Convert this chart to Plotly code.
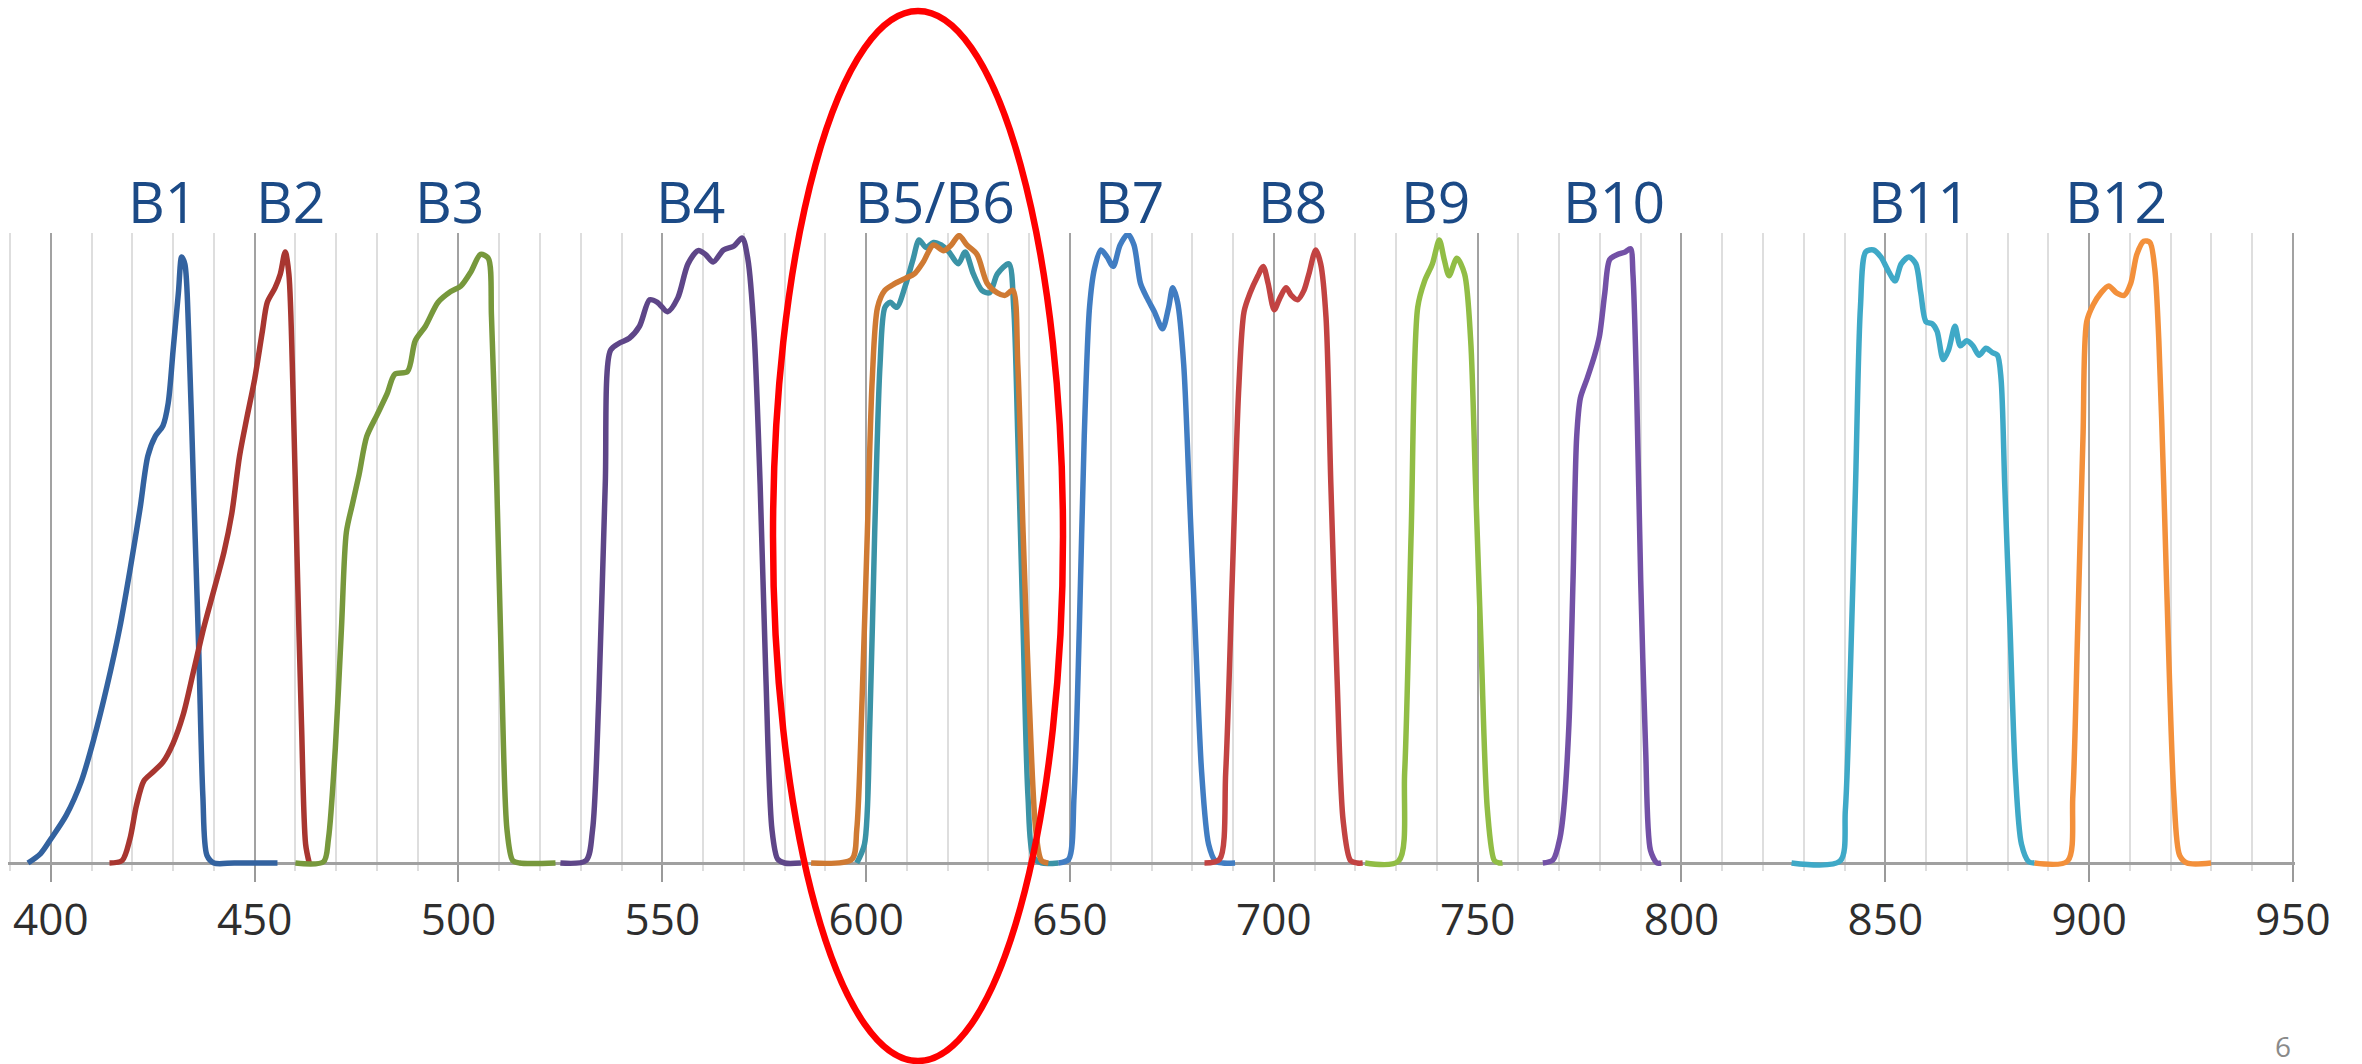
import plotly.graph_objects as go

# ---------------------------------------------------------------------------
# Relative spectral response of each band (wavelength in nm, response 0..1)
# ---------------------------------------------------------------------------
b1_nm = [394.4, 397.5, 400, 403.8, 407.5, 410.6, 413.8, 416.9, 419.4, 421.9, 423.8, 425.6, 427.5,
         428.8, 430, 431.3, 432.1, 432.9, 433.8, 435, 436.3, 437.3, 438.3, 440, 445, 455.6]
b1_resp = [0, 0.015, 0.038, 0.076, 0.13, 0.198, 0.281, 0.373, 0.464, 0.563, 0.646, 0.677, 0.694,
           0.73, 0.814, 0.905, 0.962, 0.95, 0.844, 0.6, 0.335, 0.106, 0.012, 0, 0, 0]

b2_nm = [414.4, 417.5, 419.4, 421, 422.8, 425, 427.5, 430, 432.5, 435, 437.5, 440, 442.5, 444.4,
         446.3, 448.1, 450, 451.9, 453.1, 455, 456.3, 457.5, 458.4, 459.4, 460.4, 461.5, 462.5, 463.4]
b2_resp = [0, 0.004, 0.038, 0.091, 0.13, 0.144, 0.16, 0.19, 0.236, 0.304, 0.373, 0.433, 0.494, 0.555,
           0.646, 0.707, 0.768, 0.844, 0.89, 0.913, 0.935, 0.97, 0.935, 0.753, 0.487, 0.22, 0.03, 0]

b3_nm = [460, 466.9, 468.1, 469.8, 471.3, 472.5, 474, 475.6, 477.5, 480, 482.5, 484.4, 487.5, 489.4,
         491.9, 495, 498.1, 500.6, 503.1, 505.4, 507.3, 508.1, 509.4, 510.6, 511.9, 513.3, 515, 523.8]
b3_resp = [0, 0.002, 0.038, 0.183, 0.373, 0.525, 0.57, 0.616, 0.677, 0.711, 0.745, 0.776, 0.78, 0.829,
           0.852, 0.89, 0.907, 0.916, 0.939, 0.966, 0.96, 0.867, 0.6, 0.297, 0.053, 0.004, 0, 0]

b4_nm = [525, 531.3, 532.9, 534.4, 536, 537.3, 539.4, 541.9, 544.4, 546.9, 548.8, 551.3, 553.8, 556.3,
         558.8, 560.6, 562.5, 565, 567.5, 569.6, 571, 572.5, 574, 575.4, 576.9, 578.3, 580, 584]
b4_resp = [0, 0.004, 0.053, 0.259, 0.6, 0.814, 0.825, 0.833, 0.852, 0.894, 0.89, 0.875, 0.897, 0.951,
           0.972, 0.966, 0.954, 0.973, 0.979, 0.992, 0.958, 0.844, 0.6, 0.297, 0.053, 0.006, 0, 0]

b5_nm = [597.7, 599.6, 600.9, 602.1, 603.4, 604.6, 605.9, 607.5, 609.6, 611.5, 613, 614.7, 616.5,
         618.4, 620.3, 622.6, 624.3, 626.3, 628.4, 630.3, 632.2, 635, 636.2, 637.2, 638.5, 639.7, 641,
         643, 647.2]
b5_resp = [0, 0.03, 0.22, 0.525, 0.79, 0.882, 0.89, 0.882, 0.916, 0.958, 0.989, 0.977, 0.985,
           0.981, 0.97, 0.951, 0.97, 0.935, 0.909, 0.905, 0.935, 0.951, 0.882, 0.677, 0.373, 0.106, 0.01,
           0, 0]

b6_nm = [586.5, 596.5, 597.7, 599, 600.3, 601.5, 602.8, 604.6, 607.1, 609.6, 611.8, 614, 616.5, 619,
         620.9, 622.8, 624.7, 627.2, 629.7, 632.2, 634.1, 636, 637.2, 638.5, 640, 641.6, 643, 644.7]
b6_resp = [0, 0.006, 0.053, 0.259, 0.525, 0.768, 0.882, 0.909, 0.92, 0.928, 0.935, 0.954, 0.981, 0.972,
           0.981, 0.996, 0.981, 0.966, 0.92, 0.905, 0.901, 0.909, 0.791, 0.525, 0.259, 0.053, 0.004, 0]

b7_nm = [647.2, 649.7, 651, 652.3, 653.5, 654.8, 656, 657.6, 659.1, 660.6, 662.3, 664.2, 665.7, 667.3,
         668.9, 670.7, 672.7, 674.2, 675.2, 676.4, 677.9, 679.2, 680.7, 682.3, 684, 685.7, 687.5, 690.5]
b7_resp = [0, 0.006, 0.106, 0.373, 0.677, 0.882, 0.943, 0.973, 0.962, 0.947, 0.981, 0.998, 0.981, 0.92,
           0.897, 0.875, 0.848, 0.882, 0.913, 0.89, 0.791, 0.6, 0.373, 0.144, 0.03, 0.003, 0, 0]

b8_nm = [683, 686.7, 688.2, 689.8, 691.4, 692.7, 694.2, 696.1, 697.4, 698.6, 700.1, 701.5, 703, 704.3,
         705.8, 707.4, 708.6, 710.3, 711.5, 712.8, 714, 715.5, 717, 718.8, 720.5, 721.8]
b8_resp = [0, 0.006, 0.144, 0.449, 0.753, 0.875, 0.905, 0.932, 0.947, 0.92, 0.878, 0.897, 0.913, 0.901,
           0.894, 0.909, 0.935, 0.973, 0.951, 0.867, 0.6, 0.297, 0.068, 0.004, 0, 0]

b9_nm = [722.4, 730.6, 732.1, 733.7, 735.3, 737, 738.9, 740.6, 741.8, 743, 744.9, 746.8, 748.3, 749.5,
         750.9, 752.4, 754.1, 755.3, 756.1]
b9_resp = [0, 0.003, 0.144, 0.525, 0.882, 0.924, 0.951, 0.989, 0.958, 0.932, 0.96, 0.935, 0.829, 0.6,
           0.335, 0.084, 0.004, 0, 0]

b10_nm = [766, 768.5, 770.2, 771.1, 772.4, 773.4, 774.3, 775.2, 776.8, 778.7, 779.9, 781.2, 782.4,
          784.3, 786.2, 787.5, 788.1, 789, 790, 791.2, 792.4, 794, 795]
b10_resp = [0, 0.005, 0.04, 0.084, 0.22, 0.449, 0.677, 0.738, 0.768, 0.806, 0.837, 0.905, 0.958,
            0.966, 0.97, 0.975, 0.935, 0.753, 0.449, 0.183, 0.02, 0, 0]

b11_nm = [827, 838.9, 840.2, 841.4, 842.7, 843.9, 845.2, 847.1, 848.9, 850.8, 852.4, 853.9, 855.8,
          857.5, 858.7, 860, 861.5, 862.7, 864.2, 865.5, 867.1, 868.4, 870, 871.5, 873, 874.7, 876.3,
          877.5, 878.4, 879.3, 880.6, 881.9, 883.4, 885.2, 886.6]
b11_resp = [0, 0.003, 0.084, 0.297, 0.6, 0.882, 0.97, 0.973, 0.962, 0.939, 0.924, 0.951, 0.962,
            0.951, 0.905, 0.859, 0.856, 0.844, 0.799, 0.814, 0.852, 0.821, 0.829, 0.821, 0.806, 0.817, 0.81,
            0.806, 0.768, 0.6, 0.373, 0.144, 0.03, 0.002, 0]

b12_nm = [886.6, 894.7, 896, 897.2, 898.5, 899.4, 901, 902.9, 904.8, 906.7, 908.6, 910.2, 911.7, 913.4,
          914.9, 916.1, 917.1, 918.3, 919.5, 920.8, 922.2, 924, 929.9]
b12_resp = [0, 0.003, 0.106, 0.373, 0.677, 0.859, 0.886, 0.905, 0.916, 0.905, 0.901, 0.92, 0.966, 0.987,
            0.985, 0.943, 0.829, 0.6, 0.335, 0.106, 0.012, 0, 0]

# Band labels above the curves and where they sit on the wavelength axis
label_text = ["B1", "B2", "B3", "B4", "B5/B6", "B7", "B8", "B9", "B10", "B11", "B12"]
label_nm = [427.5, 458.9, 497.9, 557.0, 617.0, 664.6, 704.7, 739.7, 783.4, 858.3, 906.6]

# Wavelength axis ticks
tick_nm = [400, 450, 500, 550, 600, 650, 700, 750, 800, 850, 900, 950]
tick_labels = ["400", "450", "500", "550", "600", "650", "700", "750", "800", "850", "900", "950"]

page_number = "6"

# ---------------------------------------------------------------------------
# Styling
# ---------------------------------------------------------------------------
W, H = 2362, 1064
M_L, M_R, M_T, M_B = 8, 67, 233, 193
Y_LOW = -8 / 630            # a little room under zero so the baselines are not clipped
PLOT_W = W - M_L - M_R
PLOT_H = H - M_T - M_B


def paper_x(px):
    return (px - M_L) / PLOT_W


def paper_y(py):
    return (H - M_B - py) / PLOT_H


bands = [
    (b1_nm, b1_resp, "#33629f"),
    (b2_nm, b2_resp, "#a83630"),
    (b3_nm, b3_resp, "#77983c"),
    (b4_nm, b4_resp, "#5e4688"),
    (b5_nm, b5_resp, "#3b93a6"),
    (b6_nm, b6_resp, "#cf7a33"),
    (b7_nm, b7_resp, "#417dc2"),
    (b8_nm, b8_resp, "#c24342"),
    (b9_nm, b9_resp, "#91bd45"),
    (b10_nm, b10_resp, "#7351a6"),
    (b11_nm, b11_resp, "#3fa9c7"),
    (b12_nm, b12_resp, "#f3903b"),
]

fig = go.Figure()
for nm, resp, color in bands:
    fig.add_trace(go.Scatter(
        x=nm, y=resp, mode="lines",
        line=dict(color=color, width=5.5, shape="spline", smoothing=0.8),
        hoverinfo="skip", showlegend=False,
    ))

# band names above the curves (x on the wavelength axis, y in page space)
for text, x in zip(label_text, label_nm):
    fig.add_annotation(
        x=x, y=paper_y(201), xref="x", yref="paper", text=text, showarrow=False,
        xanchor="center", yanchor="middle",
        font=dict(family="Open Sans", size=57, color="#1b4a86"),
    )

# page number in the corner
fig.add_annotation(
    x=paper_x(2283), y=paper_y(1046), xref="paper", yref="paper", text=page_number,
    showarrow=False, xanchor="center", yanchor="middle",
    font=dict(family="Open Sans", size=28, color="#8a8a8a"),
)

# hide the grid stubs under the baseline
fig.add_shape(type="rect", xref="paper", yref="y", x0=0, x1=1, y0=Y_LOW, y1=-0.003,
              fillcolor="white", line=dict(width=0), layer="between")

# red highlight ring around B5/B6
fig.add_shape(type="circle", xref="paper", yref="paper",
              x0=paper_x(773), x1=paper_x(1063), y0=paper_y(1061), y1=paper_y(11),
              line=dict(color="#ff0000", width=6.5), fillcolor="rgba(0,0,0,0)", layer="above")

fig.update_layout(
    width=W, height=H,
    margin=dict(l=M_L, r=M_R, t=M_T, b=M_B, pad=0),
    paper_bgcolor="white", plot_bgcolor="white",
    xaxis=dict(
        range=[389.5, 950.5],
        tickmode="array", tickvals=tick_nm, ticktext=tick_labels,
        showgrid=True, gridcolor="#a2a2a2", gridwidth=2,
        minor=dict(tickmode="linear", tick0=390, dtick=10, showgrid=True,
                   gridcolor="#dedede", gridwidth=2, ticks=""),
        showline=True, linecolor="#a0a0a0", linewidth=3,
        ticks="outside", ticklen=17, tickwidth=2, tickcolor="#9a9a9a",
        tickfont=dict(family="Open Sans", size=44, color="#2e2e2e"),
        zeroline=False, anchor="free", position=paper_y(863),
        layer="below traces", fixedrange=True,
    ),
    yaxis=dict(range=[Y_LOW, 1.0], visible=False, showgrid=False, zeroline=False, fixedrange=True),
)

fig.write_html("out.html")
